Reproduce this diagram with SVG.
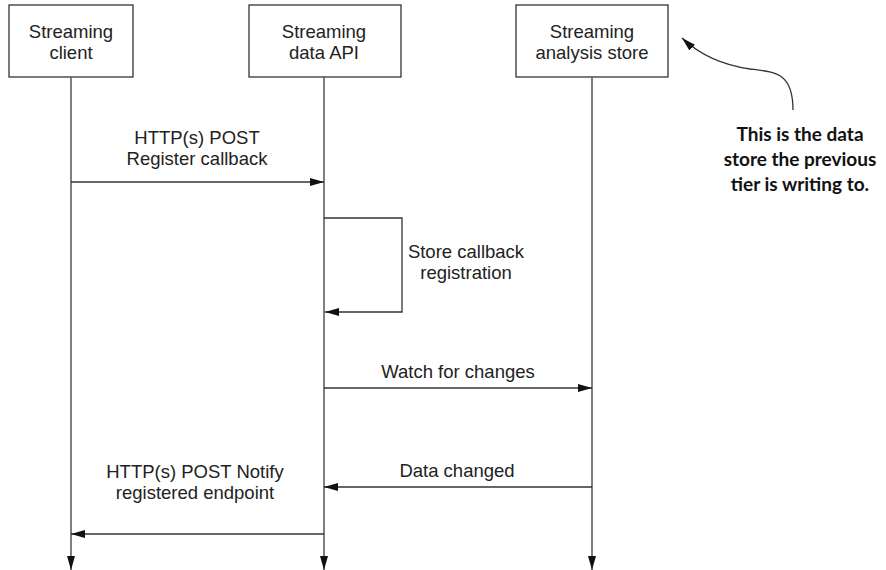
<svg xmlns="http://www.w3.org/2000/svg" width="886" height="570" viewBox="0 0 886 570">
<style>
.box{fill:#fff;stroke:#333;stroke-width:1.3}
.lbl{font-family:"Liberation Sans",Arial,sans-serif;font-size:18.5px;fill:#222;text-anchor:middle}
.ln{stroke:#333;stroke-width:1.3;fill:none}
.life{stroke:#555;stroke-width:1.5;fill:none}
.note{font-family:Lato,"Open Sans",sans-serif;font-weight:bold;font-size:19px;fill:#111;text-anchor:middle}
</style>
<defs>
<marker id="ah" viewBox="0 0 14 8" refX="14" refY="4" markerWidth="14" markerHeight="8" markerUnits="userSpaceOnUse" orient="auto"><path d="M0,0 L14,4 L0,8 Z" fill="#111"/></marker>
</defs>
<g id="client"><rect class="box" x="9" y="5" width="124" height="72"/><text class="lbl" x="71" y="38">Streaming</text><text class="lbl" x="71" y="59">client</text></g>
<g id="api"><rect class="box" x="249" y="5" width="152" height="72"/><text class="lbl" x="324" y="38">Streaming</text><text class="lbl" x="324" y="59">data API</text></g>
<g id="store"><rect class="box" x="516" y="5" width="152" height="72"/><text class="lbl" x="592" y="38">Streaming</text><text class="lbl" x="592" y="59">analysis store</text></g>
<g id="note"><text class="note" x="800" y="141">This is the data</text><text class="note" x="800" y="166">store the previous</text><text class="note" x="800" y="191">tier is writing to.</text></g>
<g id="connectors">
<line class="life" x1="71" y1="77" x2="71" y2="570" marker-end="url(#ah)"/>
<line class="life" x1="324" y1="77" x2="324" y2="570" marker-end="url(#ah)"/>
<line class="life" x1="592" y1="77" x2="592" y2="570" marker-end="url(#ah)"/>
<line class="ln" x1="71" y1="182" x2="324" y2="182" marker-end="url(#ah)"/>
<text class="lbl" x="197" y="144">HTTP(s) POST</text>
<text class="lbl" x="197" y="165">Register callback</text>
<polyline class="ln" points="324,218 402,218 402,312 325,312" marker-end="url(#ah)"/>
<text class="lbl" x="466" y="258">Store callback</text>
<text class="lbl" x="466" y="279">registration</text>
<line class="ln" x1="324" y1="388" x2="592" y2="388" marker-end="url(#ah)"/>
<text class="lbl" x="458" y="378">Watch for changes</text>
<line class="ln" x1="592" y1="487" x2="324" y2="487" marker-end="url(#ah)"/>
<text class="lbl" x="457" y="477">Data changed</text>
<line class="ln" x1="324" y1="534" x2="71" y2="534" marker-end="url(#ah)"/>
<text class="lbl" x="195" y="478">HTTP(s) POST Notify</text>
<text class="lbl" x="195" y="499">registered endpoint</text>
<path class="ln" d="M793,110 C793,72 775,72 750,69 C722,65 700,55 682,38" marker-end="url(#ah)"/>
</g>
</svg>
